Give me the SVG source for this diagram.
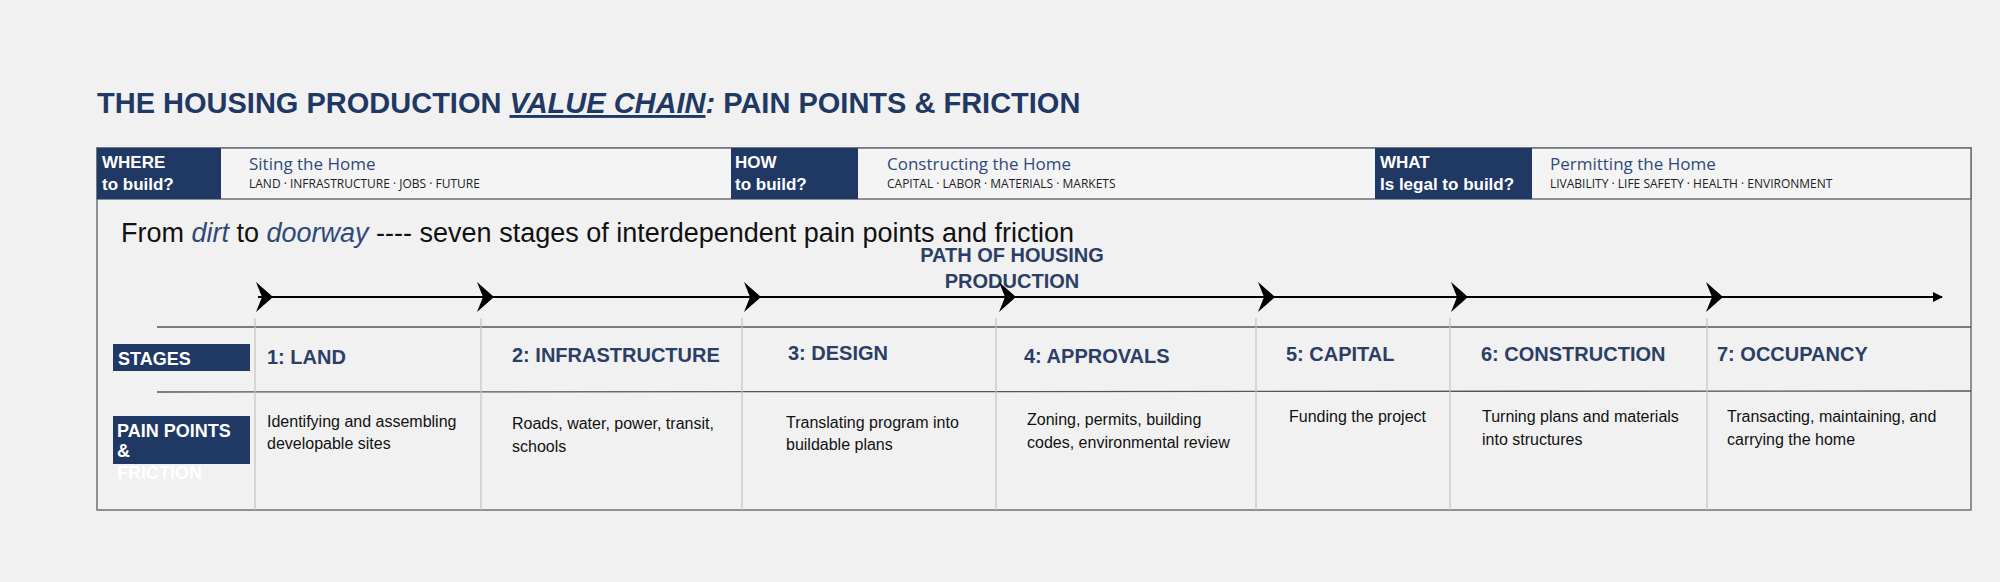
<svg xmlns="http://www.w3.org/2000/svg" width="2000" height="582" viewBox="0 0 2000 582">
<style>
.nv{fill:#1f3864}
.hw{font-family:"Liberation Sans",Arial,sans-serif;font-size:17px;fill:#fff;font-weight:bold}
.hs{font-family:"Open Sans","Liberation Sans",sans-serif;font-size:17px;fill:#2f4a7a}
.hm{font-family:"Open Sans","Liberation Sans",sans-serif;font-size:12px;fill:#222}
.st{font-family:"Liberation Sans",Arial,sans-serif;font-size:20px;font-weight:bold;fill:#2b3f66}
.pp{font-family:"Liberation Sans",Arial,sans-serif;font-size:16px;fill:#111}
.lb{font-family:"Liberation Sans",Arial,sans-serif;font-size:18px;font-weight:bold;fill:#fff}
.dv{stroke:#c8c4bc;stroke-width:1.2}
</style>
<defs>
<marker id="ah" markerWidth="10" markerHeight="10" refX="9" refY="5" orient="auto" markerUnits="userSpaceOnUse"><path d="M0,0 L10,5 L0,10 Z" fill="#000"/></marker>
</defs>
<rect width="2000" height="582" fill="#f1f1f1"/>
<text x="97" y="113" font-family="Liberation Sans,Arial,sans-serif" font-size="29" font-weight="bold" fill="#1f3864">THE HOUSING PRODUCTION <tspan font-style="italic" text-decoration="underline">VALUE CHAIN</tspan><tspan font-style="italic">:</tspan> PAIN POINTS &amp; FRICTION</text>
<rect x="97" y="148" width="1874" height="362" fill="#f1f1f1" stroke="#6a6f78" stroke-width="1.5"/>
<rect x="97" y="148" width="1874" height="51" fill="#f4f4f4" stroke="#6a6f78" stroke-width="1.5"/>
<g id="where"><rect class="nv" x="97" y="148" width="124" height="51"/><text class="hw" x="102" y="168">WHERE</text><text class="hw" x="102" y="190">to build?</text>
<text class="hs" x="249" y="170">Siting the Home</text><text class="hm" x="249" y="188">LAND · INFRASTRUCTURE · JOBS · FUTURE</text></g>
<g id="how"><rect class="nv" x="731" y="148" width="127" height="51"/><text class="hw" x="735" y="168">HOW</text><text class="hw" x="735" y="190">to build?</text>
<text class="hs" x="887" y="170">Constructing the Home</text><text class="hm" x="887" y="188">CAPITAL · LABOR · MATERIALS · MARKETS</text></g>
<g id="what"><rect class="nv" x="1375" y="148" width="157" height="51"/><text class="hw" x="1380" y="168">WHAT</text><text class="hw" x="1380" y="190">Is legal to build?</text>
<text class="hs" x="1550" y="170">Permitting the Home</text><text class="hm" x="1550" y="188">LIVABILITY · LIFE SAFETY · HEALTH · ENVIRONMENT</text></g>
<text x="121" y="242" font-family="Liberation Sans,Arial,sans-serif" font-size="27" fill="#111">From <tspan font-style="italic" fill="#2f4a7a">dirt</tspan> to <tspan font-style="italic" fill="#2f4a7a">doorway</tspan> ---- seven stages of interdependent pain points and friction</text>
<text x="1012" y="262" text-anchor="middle" font-family="Liberation Sans,Arial,sans-serif" font-size="20" font-weight="bold" fill="#2b3f66">PATH OF HOUSING</text>
<text x="1012" y="288" text-anchor="middle" font-family="Liberation Sans,Arial,sans-serif" font-size="20" font-weight="bold" fill="#2b3f66">PRODUCTION</text>
<g id="connectors">
<line x1="258" y1="297" x2="1942" y2="297" stroke="#000" stroke-width="2.2" marker-end="url(#ah)"/>
<g fill="#000">
<path d="M256,282 L273,297 L256,312 L262,297 Z"/>
<path d="M477,282 L494,297 L477,312 L483,297 Z"/>
<path d="M744,282 L761,297 L744,312 L750,297 Z"/>
<path d="M999,282 L1016,297 L999,312 L1005,297 Z"/>
<path d="M1258,282 L1275,297 L1258,312 L1264,297 Z"/>
<path d="M1451,282 L1468,297 L1451,312 L1457,297 Z"/>
<path d="M1706,282 L1723,297 L1706,312 L1712,297 Z"/>
</g>
</g>
<line x1="157" y1="327" x2="1971" y2="327" stroke="#555" stroke-width="1.3"/>
<line x1="157" y1="392" x2="1971" y2="391" stroke="#555" stroke-width="1.3"/>
<g class="dv"><line x1="255" y1="318" x2="255" y2="510"/><line x1="481" y1="318" x2="481" y2="510"/><line x1="742" y1="318" x2="742" y2="510"/><line x1="996" y1="318" x2="996" y2="510"/><line x1="1256" y1="318" x2="1256" y2="510"/><line x1="1450" y1="318" x2="1450" y2="510"/><line x1="1707" y1="318" x2="1707" y2="510"/></g>
<g id="stages-label"><rect class="nv" x="113" y="344" width="137" height="27"/><text class="lb" x="118" y="365">STAGES</text></g>
<g id="pain-label"><rect class="nv" x="113" y="416" width="137" height="48"/><text class="lb" x="117" y="437">PAIN POINTS</text><text class="lb" x="117" y="457">&amp;</text><text class="lb" x="117" y="479">FRICTION</text></g>
<g id="s1"><text class="st" x="267" y="364">1: LAND</text><text class="pp" x="267" y="427">Identifying and assembling</text><text class="pp" x="267" y="449">developable sites</text></g>
<g id="s2"><text class="st" x="512" y="362">2: INFRASTRUCTURE</text><text class="pp" x="512" y="429">Roads, water, power, transit,</text><text class="pp" x="512" y="452">schools</text></g>
<g id="s3"><text class="st" x="788" y="360">3: DESIGN</text><text class="pp" x="786" y="428">Translating program into</text><text class="pp" x="786" y="450">buildable plans</text></g>
<g id="s4"><text class="st" x="1024" y="363">4: APPROVALS</text><text class="pp" x="1027" y="425">Zoning, permits, building</text><text class="pp" x="1027" y="448">codes, environmental review</text></g>
<g id="s5"><text class="st" x="1286" y="361">5: CAPITAL</text><text class="pp" x="1289" y="422">Funding the project</text></g>
<g id="s6"><text class="st" x="1481" y="361">6: CONSTRUCTION</text><text class="pp" x="1482" y="422">Turning plans and materials</text><text class="pp" x="1482" y="445">into structures</text></g>
<g id="s7"><text class="st" x="1717" y="361">7: OCCUPANCY</text><text class="pp" x="1727" y="422">Transacting, maintaining, and</text><text class="pp" x="1727" y="445">carrying the home</text></g>
</svg>
